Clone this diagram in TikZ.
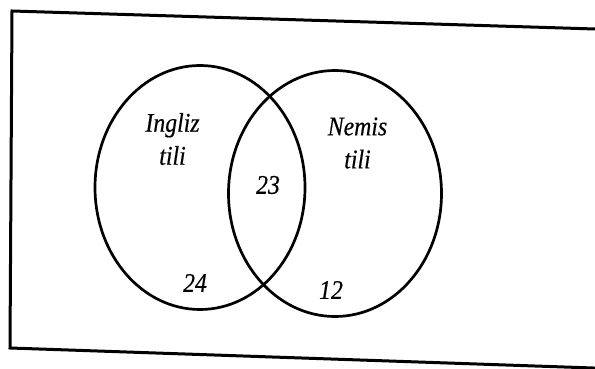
\documentclass[tikz,border=0pt]{standalone}
\usepackage{fontspec}
\setmainfont[FakeStretch=0.88,FakeBold=0.4]{Liberation Serif}
\usetikzlibrary{shapes.geometric}
\begin{document}
\begin{tikzpicture}[x=1pt,y=-1pt,
  setbox/.style={ellipse, draw, line width=2.7pt, inner sep=0pt},
  lbl/.style={font=\fontsize{27}{33}\selectfont\itshape, align=center, inner sep=0pt}]
\useasboundingbox (0,0) rectangle (595,369);
\fill[white] (0,0) rectangle (595,369);
\begin{scope}
\clip (0,0) rectangle (595,369);
\draw[line width=3pt, line join=miter] (12,11) -- (605,29.3) -- (605,368.4) -- (10,348) -- cycle;
\end{scope}
\node[setbox, minimum width=210pt, minimum height=244pt] (A) at (200,187.5) {};
\node[setbox, minimum width=213pt, minimum height=246pt] (B) at (335,193.5) {};
\node[lbl] (la) at (172.5,139) {Ingliz\\tili};
\node[lbl] (lb) at (357.5,143) {Nemis\\tili};
\node[lbl] (n23) at (268,185) {23};
\node[lbl] (n24) at (195,283) {24};
\node[lbl] (n12) at (331,290) {12};
\end{tikzpicture}
\end{document}
